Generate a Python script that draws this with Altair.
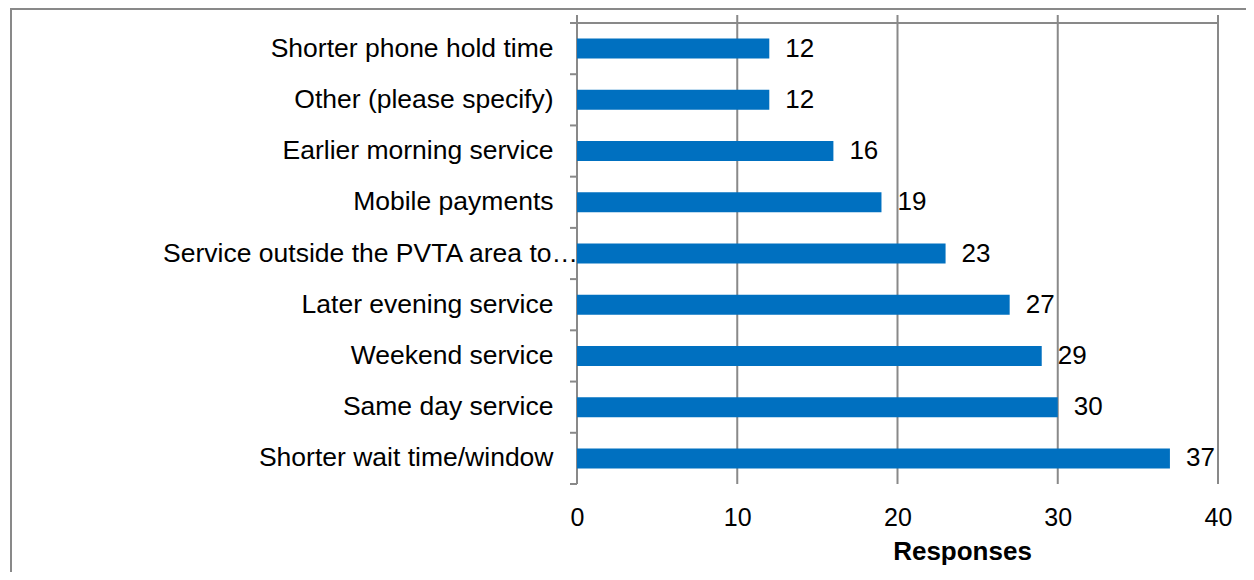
import altair as alt
import pandas as pd

categories = [
    "Shorter phone hold time",
    "Other (please specify)",
    "Earlier morning service",
    "Mobile payments",
    "Service outside the PVTA area to\u2026",
    "Later evening service",
    "Weekend service",
    "Same day service",
    "Shorter wait time/window",
]
responses = [12, 12, 16, 19, 23, 27, 29, 30, 37]
x_ticks = [0, 10, 20, 30, 40]
band_edges = list(range(len(categories) + 1))
overflow_label = categories[4]

W, H = 641, 461
GRID = "#898989"
BAR = "#0070C0"
FONT = "Liberation Sans"

df = pd.DataFrame({"cat": categories, "val": responses})
grid_df = pd.DataFrame({"t": x_ticks})
edge_df = pd.DataFrame({"b": band_edges})

xscale = alt.Scale(domain=[0, 40], nice=False, zero=True)
yscale = alt.Scale(domain=categories, paddingInner=0.61, paddingOuter=0.305)

x_axis = alt.Axis(
    values=x_ticks,
    title="Responses",
    titleFontSize=26,
    titleFontWeight="bold",
    titleColor="#000000",
    titleX=385,
    titleY=75,
    titleBaseline="alphabetic",
    titleAnchor="middle",
    titleAlign="center",
    ticks=False,
    tickSize=0,
    domain=False,
    grid=False,
    labelFlush=False,
    labelFontSize=25,
    labelPadding=21,
    labelColor="#000000",
)

grid = alt.Chart(grid_df).mark_rule(color=GRID, strokeWidth=2).encode(
    x=alt.X("t:Q", scale=xscale, axis=x_axis),
    y=alt.value(-8),
    y2=alt.value(H),
)

top_line = alt.Chart(grid_df).mark_rule(color=GRID, strokeWidth=2).encode(
    x=alt.value(0), x2=alt.value(W), y=alt.value(0)
)

bars = alt.Chart(df).mark_bar(color=BAR).encode(
    y=alt.Y(
        "cat:N",
        scale=yscale,
        sort=categories,
        axis=alt.Axis(
            title=None,
            ticks=False,
            tickSize=0,
            domain=False,
            grid=False,
            labelFontSize=26.5,
            labelPadding=24,
            labelLimit=700,
            labelColor="#000000",
            labelExpr="datum.value == '%s' ? '' : datum.label" % overflow_label,
        ),
    ),
    x=alt.X("val:Q", scale=xscale),
)

# the truncated category label in the original overflows up to the axis line
long_label = alt.Chart(df).transform_filter(
    alt.datum.cat == overflow_label
).mark_text(align="right", baseline="middle", fontSize=26.5, color="#000000").encode(
    y=alt.Y("cat:N", scale=yscale, sort=categories),
    x=alt.value(1),
    text="cat:N",
)

labels = alt.Chart(df).mark_text(
    align="left", baseline="middle", dx=16, fontSize=26, color="#000000"
).encode(
    y=alt.Y("cat:N", scale=yscale, sort=categories),
    x=alt.X("val:Q", scale=xscale),
    text=alt.Text("val:Q"),
)

main = alt.layer(grid, top_line, bars, labels, long_label)

cat_ticks = alt.Chart(edge_df).mark_rule(color=GRID, strokeWidth=2).encode(
    y=alt.Y("b:Q", scale=alt.Scale(domain=[0, len(categories)], nice=False), axis=None),
    x=alt.value(-7),
    x2=alt.value(0),
)

border_left = alt.Chart(grid_df).mark_rule(color=GRID, strokeWidth=2).encode(
    x=alt.value(-566), y=alt.value(-15), y2=alt.value(700)
)
border_top = alt.Chart(grid_df).mark_rule(color=GRID, strokeWidth=2).encode(
    x=alt.value(-567), x2=alt.value(1200), y=alt.value(-14)
)

chart = (
    alt.layer(main, cat_ticks, border_left, border_top)
    .resolve_scale(y="independent")
    .properties(
        width=W,
        height=H,
        autosize=alt.AutoSizeParams(type="none"),
        padding={"left": 569, "top": 15, "right": 28, "bottom": 88},
    )
    .configure(font=FONT)
    .configure_view(stroke=None)
)

chart.save("out.html", embed_options={"renderer": "svg", "actions": False})
